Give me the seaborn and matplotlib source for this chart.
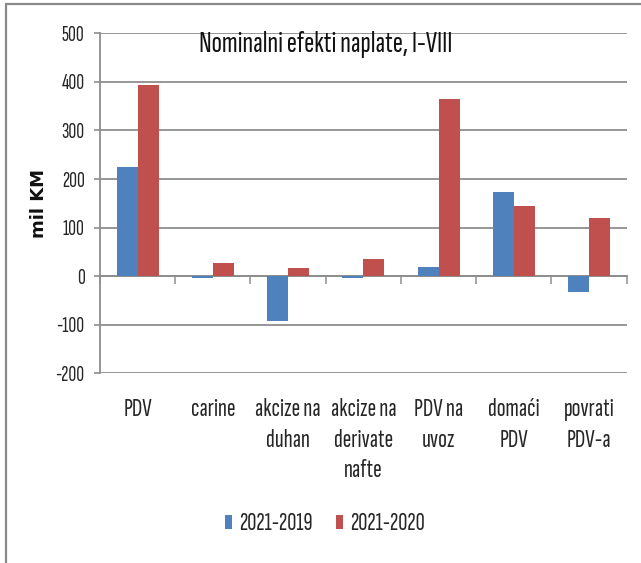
import matplotlib
matplotlib.use("Agg")
import matplotlib.pyplot as plt
from matplotlib.lines import Line2D
from matplotlib import font_manager as fm
from matplotlib.textpath import TextPath
import seaborn as sns
import pandas as pd

categories = ["PDV", "carine", "akcize na\nduhan", "akcize na\nderivate\nnafte",
              "PDV na\nuvoz", "domaći\nPDV", "povrati\nPDV-a"]
series_names = ["2021-2019", "2021-2020"]
values_2019 = [225, -3, -93, -3, 19, 173, -33]
values_2020 = [393, 27, 17, 35, 364, 144, 120]
yticks = [-200, -100, 0, 100, 200, 300, 400, 500]
title = "Nominalni efekti naplate, I-VIII"
ylabel = "mil KM"
colors = ["#4F81BD", "#C0504D"]

df = pd.DataFrame({
    "kategorija": categories * 2,
    "serija": [series_names[0]] * len(categories) + [series_names[1]] * len(categories),
    "vrijednost": values_2019 + values_2020,
})

sns.set_style("white")
avail = set(f.name for f in fm.fontManager.ttflist)


def pick(*names):
    for n in names:
        if n in avail:
            return n
    return "DejaVu Sans"


body_font = pick("Sofia Sans Extra Condensed", "Sofia Sans Condensed", "PT Sans Narrow", "DejaVu Sans")
plt.rcParams["font.family"] = [body_font, "DejaVu Sans"]
plt.rcParams["axes.unicode_minus"] = False


def _ext(family, sample):
    fp = fm.FontProperties(family=family)
    return TextPath((0, 0), sample, size=100, prop=fp).get_extents()


def size_for_h(family, px, sample="H"):
    return px / _ext(family, sample).height * 72


def size_for_w(family, px, sample):
    return px / _ext(family, sample).width * 72


tick_size = min(size_for_h(body_font, 14.5, "0"), size_for_w(body_font, 24, "500"))
cat_size = min(size_for_h(body_font, 17, "H"), size_for_w(body_font, 70, "akcize na"))
leg_size = min(size_for_h(body_font, 17.5, "0"), size_for_w(body_font, 72, "2021-2019"))
title_size = min(size_for_h(body_font, 20, "N"), size_for_w(body_font, 258, title))

fig = plt.figure(figsize=(6.41, 5.63), dpi=100)
ax = fig.add_axes([100 / 641, 1 - 373.3 / 563, (626.7 - 100) / 641, (373.3 - 33.3) / 563])

sns.barplot(data=df, x="kategorija", y="vrijednost", hue="serija", palette=colors,
            saturation=1, width=0.56, gap=0, linewidth=0, ax=ax, legend=True, zorder=3)

grid_c = "#8E8E8E"
ax.set_xlim(-0.5, len(categories) - 0.5)
ax.set_ylim(yticks[0], yticks[-1])
ax.set_yticks(yticks)
ax.yaxis.grid(True, color=grid_c, lw=1.3, zorder=0)
ax.set_axisbelow(True)
for s in ["top", "right", "bottom"]:
    ax.spines[s].set_visible(False)
ax.spines["left"].set_color(grid_c)
ax.spines["left"].set_linewidth(1.3)
ax.tick_params(axis="y", direction="out", length=4, color=grid_c, width=1.2,
               pad=7, labelsize=tick_size, labelcolor="#262626", left=True)
ax.tick_params(axis="x", length=0, pad=18, labelsize=cat_size, labelcolor="#262626")
for lab in ax.get_xticklabels():
    lab.set_linespacing(1.4)
    lab.set_verticalalignment("top")
ax.set_xlabel("")
ax.set_ylabel(ylabel, fontsize=13, fontweight="bold", family="DejaVu Sans", color="#111111")
ax.yaxis.set_label_coords(-0.099, 0.498)

# zero line with category separators
sec = ax.secondary_xaxis(200 / 700)
sec.set_xticks([i - 0.5 for i in range(len(categories) + 1)])
sec.tick_params(direction="out", length=5.5, color=grid_c, width=1.1, labelbottom=False)
sec.spines["bottom"].set_color(grid_c)
sec.spines["bottom"].set_linewidth(1.3)

ax.text((326 - 100) / 526.7, (373.3 - 45) / 340, title, transform=ax.transAxes,
        ha="center", va="center", fontsize=title_size, color="#111111")

handles, labels = ax.get_legend_handles_labels()
ax.get_legend().remove()
em = leg_size * 100 / 72
fig.legend(handles, labels, loc="center", bbox_to_anchor=(325 / 641, 1 - 524 / 563),
           ncol=2, frameon=False, fontsize=leg_size, handlelength=7 / em,
           handleheight=12 / em, handletextpad=0.3, columnspacing=0.9, labelcolor="#262626")

# screenshot frame
fig.add_artist(Line2D([6 / 641, 6 / 641], [0, 1 - 4 / 563], color="#8A8A8A", lw=1.6))
fig.add_artist(Line2D([6 / 641, 1], [1 - 4 / 563, 1 - 4 / 563], color="#8A8A8A", lw=1.6))

fig.savefig("out.png", dpi=100)
